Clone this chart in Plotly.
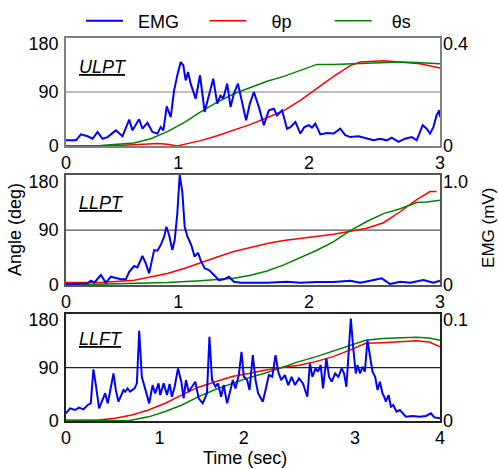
import plotly.graph_objects as go

# ---------------- data ----------------
# Panel 1: ULPT (time in s, EMG in mV, angles in deg)
ulpt_emg_t = [0, 0.08, 0.12, 0.173, 0.213, 0.253, 0.293, 0.333, 0.40, 0.453, 0.507, 0.533, 0.587, 0.613,
              0.653, 0.693, 0.733, 0.76, 0.781, 0.808, 0.84, 0.867, 0.893, 0.92, 0.941, 0.96, 0.979, 1.0,
              1.04, 1.075, 1.112, 1.147, 1.181, 1.213, 1.24, 1.261, 1.293, 1.32, 1.347, 1.379, 1.405, 1.445,
              1.475, 1.507, 1.547, 1.587, 1.627, 1.667, 1.693, 1.733, 1.773, 1.8, 1.84, 1.88, 1.912, 1.947,
              1.973, 2.0, 2.04, 2.093, 2.147, 2.2, 2.24, 2.28, 2.347, 2.413, 2.467, 2.52, 2.573, 2.613,
              2.667, 2.72, 2.773, 2.813, 2.861, 2.893, 2.92, 2.947, 2.973, 2.995, 3.0]
ulpt_emg = [0.021, 0.021, 0.043, 0.036, 0.027, 0.052, 0.027, 0.033, 0.058, 0.036, 0.098, 0.058, 0.099, 0.064,
            0.086, 0.052, 0.046, 0.070, 0.058, 0.147, 0.107, 0.206, 0.262, 0.311, 0.299, 0.243, 0.274, 0.231,
            0.175, 0.262, 0.126, 0.188, 0.249, 0.157, 0.188, 0.175, 0.231, 0.144, 0.194, 0.231, 0.175, 0.095,
            0.157, 0.200, 0.144, 0.077, 0.132, 0.138, 0.114, 0.132, 0.064, 0.070, 0.089, 0.046, 0.070, 0.077,
            0.068, 0.083, 0.043, 0.048, 0.046, 0.064, 0.040, 0.033, 0.036, 0.027, 0.021, 0.027, 0.021, 0.031,
            0.015, 0.027, 0.033, 0.021, 0.077, 0.064, 0.046, 0.070, 0.114, 0.132, 0.107]
ulpt_p_t = [0, 0.28, 0.547, 0.733, 0.813, 0.893, 0.973, 1.08, 1.213, 1.347, 1.48, 1.613, 1.747, 1.88,
            2.013, 2.147, 2.28, 2.36, 2.547, 2.68, 2.84, 3.0]
ulpt_p = [0, 0, 2, 4, 3, 0, 4, 9, 17, 26, 36, 47, 59, 76, 96, 116, 134, 140, 142, 140, 137, 130]
ulpt_s_t = [0, 0.28, 0.547, 0.68, 0.813, 0.947, 1.08, 1.213, 1.347, 1.48, 1.613, 1.747, 1.88, 2.013,
            2.147, 2.28, 2.413, 2.547, 2.68, 2.813, 3.0]
ulpt_s = [0, 1, 5, 12, 24, 39, 57, 73, 87, 98, 108, 116, 126, 136, 136, 137, 139, 140, 140, 139, 137]

# Panel 2: LLPT
llpt_emg_t = [0, 0.093, 0.173, 0.2, 0.227, 0.28, 0.32, 0.36, 0.4, 0.44, 0.48, 0.507, 0.547, 0.573, 0.613,
              0.64, 0.667, 0.707, 0.733, 0.76, 0.787, 0.805, 0.827, 0.853, 0.872, 0.893, 0.912, 0.933,
              0.952, 0.973, 1.005, 1.032, 1.059, 1.08, 1.112, 1.147, 1.187, 1.227, 1.267, 1.307, 1.347,
              1.4, 1.507, 1.613, 1.773, 1.88, 2.013, 2.147, 2.28, 2.36, 2.44, 2.533, 2.6, 2.68, 2.76,
              2.867, 2.947, 3.0]
llpt_emg = [0.009, 0.009, 0.015, 0.039, 0.021, 0.091, 0.021, 0.076, 0.061, 0.052, 0.052, 0.121, 0.173,
            0.161, 0.264, 0.197, 0.106, 0.318, 0.312, 0.364, 0.439, 0.530, 0.455, 0.318, 0.409, 0.652,
            1.0, 0.848, 0.530, 0.445, 0.364, 0.258, 0.294, 0.227, 0.152, 0.136, 0.091, 0.045, 0.052,
            0.076, 0.030, 0.021, 0.021, 0.021, 0.030, 0.021, 0.027, 0.027, 0.039, 0.021, 0.039, 0.061,
            0.009, 0.030, 0.021, 0.045, 0.021, 0.039]
llpt_p_t = [0, 0.28, 0.547, 0.68, 0.813, 0.947, 1.08, 1.213, 1.347, 1.48, 1.613, 1.747, 1.88, 2.013,
            2.147, 2.28, 2.413, 2.547, 2.68, 2.813, 2.92, 2.973]
llpt_p = [4, 4, 8, 14, 19, 27, 37, 46, 55, 62, 68, 73, 76, 80, 83, 88, 93, 102, 120, 140, 153, 153]
llpt_s_t = [0, 0.547, 0.813, 1.08, 1.347, 1.48, 1.613, 1.747, 1.88, 2.013, 2.147, 2.28, 2.413, 2.547,
            2.68, 2.813, 2.893, 3.0]
llpt_s = [0, 2, 4, 7, 11, 16, 23, 33, 45, 57, 71, 89, 104, 117, 125, 135, 136, 139]

# Panel 3: LLFT
llft_emg_t = [0, 0.043, 0.097, 0.139, 0.186, 0.232, 0.265, 0.293, 0.322, 0.354, 0.418, 0.447, 0.508,
              0.533, 0.561, 0.615, 0.633, 0.658, 0.686, 0.733, 0.758, 0.783, 0.811, 0.854, 0.890, 0.926,
              0.954, 0.990, 1.008, 1.044, 1.080, 1.108, 1.133, 1.162, 1.198, 1.233, 1.258, 1.283, 1.312,
              1.348, 1.383, 1.419, 1.462, 1.508, 1.534, 1.562, 1.598, 1.626, 1.659, 1.687, 1.723, 1.759,
              1.784, 1.812, 1.848, 1.877, 1.902, 1.937, 1.963, 1.998, 2.027, 2.055, 2.105, 2.134, 2.170,
              2.206, 2.241, 2.270, 2.302, 2.341, 2.377, 2.413, 2.449, 2.492, 2.534, 2.581, 2.609, 2.635,
              2.670, 2.695, 2.724, 2.749, 2.785, 2.813, 2.842, 2.878, 2.913, 2.949, 2.974, 2.999, 3.028,
              3.046, 3.071, 3.099, 3.117, 3.146, 3.171, 3.196, 3.224, 3.249, 3.278, 3.307, 3.332, 3.357,
              3.385, 3.403, 3.421, 3.450, 3.475, 3.500, 3.535, 3.571, 3.635, 3.707, 3.779, 3.850, 3.903,
              3.939, 4.0]
llft_emg = [0.0072, 0.0118, 0.0103, 0.0125, 0.0109, 0.0150, 0.0165, 0.0483, 0.0321, 0.0118, 0.0259,
            0.0165, 0.0445, 0.0290, 0.0181, 0.0290, 0.0274, 0.0305, 0.0274, 0.0305, 0.0352, 0.0844,
            0.0414, 0.0274, 0.0165, 0.0336, 0.0259, 0.0352, 0.0243, 0.0352, 0.0243, 0.0346, 0.0227,
            0.0321, 0.0492, 0.0368, 0.0212, 0.0383, 0.0274, 0.0321, 0.0368, 0.0212, 0.0165, 0.0259,
            0.0788, 0.0383, 0.0321, 0.0352, 0.0227, 0.0336, 0.0165, 0.0290, 0.0383, 0.0305, 0.0430,
            0.0648, 0.0414, 0.0383, 0.0290, 0.0617, 0.0383, 0.0259, 0.0181, 0.0290, 0.0430, 0.0414,
            0.0617, 0.0461, 0.0383, 0.0430, 0.0336, 0.0414, 0.0336, 0.0399, 0.0352, 0.0227, 0.0539,
            0.0414, 0.0492, 0.0461, 0.0523, 0.0305, 0.0586, 0.0414, 0.0368, 0.0445, 0.0414, 0.0492,
            0.0445, 0.0321, 0.0695, 0.0959, 0.0695, 0.0445, 0.0523, 0.0445, 0.0508, 0.0461, 0.0757,
            0.0617, 0.0461, 0.0414, 0.0290, 0.0368, 0.0259, 0.0227, 0.0181, 0.0243, 0.0134, 0.0150,
            0.0087, 0.0103, 0.0040, 0.0047, 0.0040, 0.0047, 0.0072, 0.0034, 0.0025]
llft_p_t = [0, 0.347, 0.525, 0.704, 0.883, 1.062, 1.240, 1.419, 1.598, 1.777, 1.955, 2.134, 2.313, 2.492,
            2.670, 2.849, 3.028, 3.206, 3.385, 3.564, 3.743, 3.886, 4.0]
llft_p = [0, 1.7, 4.5, 10, 18.5, 30, 44, 57, 66, 75, 80, 86, 90, 94, 100, 108, 119, 131, 132, 133, 135, 133, 125]
llft_s_t = [0, 0.347, 0.668, 0.883, 1.062, 1.240, 1.419, 1.598, 1.777, 1.955, 2.134, 2.313, 2.492, 2.670,
            2.849, 3.028, 3.206, 3.385, 3.564, 3.743, 3.886, 4.0]
llft_s = [1.7, 0.6, 0.6, 7, 16, 27, 41, 53, 63, 73, 81, 91, 100, 108, 117, 126, 136, 139, 140, 141, 140, 136]

panel_names = ["ULPT", "LLPT", "LLFT"]
series_names = ["EMG", "θp", "θs"]
angle_tick_text = ["0", "90", "180"]
emg_tick_text = [["0", "0.4"], ["0", "1.0"], ["0", "0.1"]]
time_tick_text = [["0", "1", "2", "3"], ["0", "1", "2", "3"], ["0", "1", "2", "3", "4"]]

# ---------------- styling / layout constants ----------------
FONT = "Liberation Sans, Arial, sans-serif"
FS = 18
C_EMG, C_P, C_S = "#0000ff", "#ff0000", "#008000"
frame_colors = ["#808080", "#555555", "#222222"]
domains = [[0.718, 1.0], [0.355, 0.642], [0.0, 0.279]]
emg_max = [0.4, 1.0, 0.1]
t_max = [3, 3, 4]
# tick label positions as they sit in the reference picture
time_tick_pos = [[0, 0.9, 1.95, 3], [0, 0.9, 1.95, 3], [0, 1.0, 1.9, 3.09, 4]]
# legend label lead-in (visual spacing between line sample and text)
legend_pad = ["\u00a0\u00a0", "\u00a0\u00a0\u00a0\u00a0", "\u00a0\u00a0\u00a0"]

panels = [
    (ulpt_emg_t, ulpt_emg, ulpt_p_t, ulpt_p, ulpt_s_t, ulpt_s),
    (llpt_emg_t, llpt_emg, llpt_p_t, llpt_p, llpt_s_t, llpt_s),
    (llft_emg_t, llft_emg, llft_p_t, llft_p, llft_s_t, llft_s),
]

fig = go.Figure()
layout = dict(
    width=498, height=469,
    margin=dict(l=66, r=58, t=38, b=48, autoexpand=False),
    paper_bgcolor="white", plot_bgcolor="white",
    font=dict(family=FONT, size=FS, color="black"),
    showlegend=True,
)
shapes = []
annotations = []

for i, (et, ev, pt, pv, st, sv) in enumerate(panels):
    n = i + 1
    xa = "x" if n == 1 else f"x{n}"
    ya = "y" if n == 1 else f"y{n}"
    ye = f"y{n + 3}"
    fc = frame_colors[i]
    first = (i == 0)
    fig.add_trace(go.Scatter(x=pt, y=pv, xaxis=xa, yaxis=ya, mode="lines", name=legend_pad[1] + series_names[1],
                             line=dict(color=C_P, width=1.5), showlegend=first, legend="legend2"))
    fig.add_trace(go.Scatter(x=st, y=sv, xaxis=xa, yaxis=ya, mode="lines", name=legend_pad[2] + series_names[2],
                             line=dict(color=C_S, width=1.5), showlegend=first, legend="legend3"))
    fig.add_trace(go.Scatter(x=et, y=ev, xaxis=xa, yaxis=ye, mode="lines", name=legend_pad[0] + series_names[0],
                             line=dict(color=C_EMG, width=2), showlegend=first, legend="legend"))

    xkey = "xaxis" if n == 1 else f"xaxis{n}"
    ykey = "yaxis" if n == 1 else f"yaxis{n}"
    ekey = f"yaxis{n + 3}"
    layout[xkey] = dict(domain=[0, 1], anchor=ya, range=[0, t_max[i]], showgrid=False, zeroline=False,
                        showline=True, mirror=True, linecolor=fc, linewidth=1.5,
                        tickmode="array", tickvals=time_tick_pos[i], ticktext=time_tick_text[i],
                        ticks="", ticklabelstandoff=0)
    layout[ykey] = dict(domain=domains[i], anchor=xa, range=[0, 180], showgrid=False, zeroline=False,
                        showline=True, mirror=True, linecolor=fc, linewidth=1.5,
                        tickmode="array", tickvals=[0, 90, 170], ticktext=angle_tick_text,
                        ticks="", ticklabelstandoff=2)
    layout[ekey] = dict(overlaying=ya, anchor=xa, side="right", range=[0, emg_max[i]], showgrid=False,
                        zeroline=False, showline=False, tickmode="array",
                        tickvals=[0, emg_max[i] * 170 / 180], ticktext=emg_tick_text[i],
                        ticks="", ticklabelstandoff=2)
    shapes.append(dict(type="line", xref=f"{xa} domain", yref=ya, x0=0, x1=1, y0=90, y1=90,
                       line=dict(color=fc, width=1.2), layer="below"))
    annotations.append(dict(text=f"<i><u>{panel_names[i]}</u></i>", xref=f"{xa} domain", yref=f"{ya} domain",
                            x=0.03, y=[0.73, 0.745, 0.766][i], xanchor="left", yanchor="middle",
                            showarrow=False, font=dict(size=FS)))

annotations += [
    dict(text="Angle (deg)", xref="paper", yref="paper", x=-0.136, y=0.499, textangle=-90,
         showarrow=False, xanchor="center", yanchor="middle"),
    dict(text="EMG (mV)", xref="paper", yref="paper", x=1.131, y=0.504, textangle=-90,
         showarrow=False, xanchor="center", yanchor="middle", font=dict(size=17)),
    dict(text="Time (sec)", xref="paper", yref="paper", x=0.479, y=-0.097,
         showarrow=False, xanchor="center", yanchor="middle"),
]

leg_common = dict(orientation="h", yanchor="middle", y=1.044, xanchor="left",
                  bgcolor="rgba(0,0,0,0)", font=dict(size=FS), itemwidth=37)
layout["legend"] = dict(leg_common, x=0.04)
layout["legend2"] = dict(leg_common, x=0.37)
layout["legend3"] = dict(leg_common, x=0.705)
layout["shapes"] = shapes
layout["annotations"] = annotations

fig.update_layout(**layout)
fig.write_html("out.html")
